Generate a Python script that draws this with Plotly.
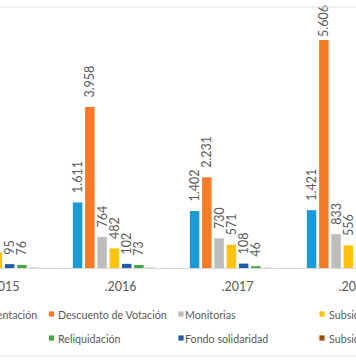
import plotly.graph_objects as go

# ---- data ----
years = [".2015", ".2016", ".2017", ".2018"]
alimentacion = [1500, 1611, 1402, 1421]
descuento_votacion = [2800, 3958, 2231, 5606]
monitorias = [650, 764, 730, 833]
subsidio_transporte = [378, 482, 571, 556]
fondo_solidaridad = [95, 102, 108, 165]
reliquidacion = [76, 73, 46, 50]
otros = [18, 16, 12, 14]
subsidio_vivienda = [0, 0, 0, 0]

PAD = "\u00a0\u00a0%{y:,.0f}"
series = [
    ("Apoyo de alimentación", alimentacion, "#1b9ad6", PAD),
    ("Descuento de Votación", descuento_votacion, "#f77b26", [PAD, PAD, PAD, "%{y:,.0f}"]),
    ("Monitorias", monitorias, "#bdbdbd", PAD),
    ("Subsidio de transporte", subsidio_transporte, "#ffc20e", PAD),
    ("Fondo solidaridad", fondo_solidaridad, "#1f5ca8", PAD),
    ("Reliquidación", reliquidacion, "#45a845", PAD),
    ("Otros", otros, "#cdd3dc", ""),
    ("Subsidio de vivienda", subsidio_vivienda, "#9e480e", ""),
]

W, H = 356, 364
TOP, BASE = 7, 268
FONT = "Lato"
TXT = "#595959"
LEG_SIZE = 10.7

fig = go.Figure()
for name, vals, col, tmpl in series:
    fig.add_trace(go.Bar(
        x=years, y=vals, name=name, marker_color=col, marker_line_width=0,
        texttemplate=tmpl,
        textposition="outside", textangle=-90, constraintext="none",
        cliponaxis=False,
        textfont=dict(family=FONT, size=12.5, color=TXT),
        showlegend=False, hoverinfo="skip",
    ))

def py(p):
    return (BASE - p) / (BASE - TOP)

def px(p):
    return p / W

shapes = [
    dict(type="line", xref="paper", yref="paper", x0=0, x1=1, y0=py(7), y1=py(7),
         line=dict(color="#e4e4e4", width=1)),
    dict(type="line", xref="paper", yref="paper", x0=0, x1=1, y0=py(356), y1=py(356),
         line=dict(color="#e4e4e4", width=1)),
]
annotations = []

legend_items = [
    # (label, color, marker center x, row y, text left x)
    ("Descuento de Votación", "#f77b26", 51.5, 314, 58),
    ("Monitorias", "#bdbdbd", 181, 314, 185),
    ("Subsidio de transporte", "#ffc20e", 322, 314, 329),
    ("Reliquidación", "#45a845", 51.5, 338, 58),
    ("Fondo solidaridad", "#1f5ca8", 181, 338, 185),
    ("Subsidio de vivienda", "#9e480e", 322, 338, 329),
]
for label, col, mx, my, tx in legend_items:
    shapes.append(dict(type="rect", xref="paper", yref="paper",
                       x0=px(mx - 2.6), x1=px(mx + 2.6), y0=py(my + 2.6), y1=py(my - 2.6),
                       fillcolor=col, line=dict(width=0)))
    annotations.append(dict(xref="paper", yref="paper", x=px(tx - 2), y=py(my),
                            xanchor="left", yanchor="middle", text=label, showarrow=False,
                            font=dict(family=FONT, size=LEG_SIZE, color=TXT)))
# first legend entry, cut off at left edge
annotations.append(dict(xref="paper", yref="paper", x=px(39), y=py(314),
                        xanchor="right", yanchor="middle", text="Apoyo de alimentación",
                        showarrow=False, font=dict(family=FONT, size=LEG_SIZE, color=TXT)))

span = W / 117.0
x0 = -3.5 / 117.0
fig.update_layout(
    width=W, height=H,
    margin=dict(l=0, r=0, t=TOP, b=H - BASE, pad=0, autoexpand=False),
    paper_bgcolor="white", plot_bgcolor="white",
    barmode="group", bargap=0.1615, bargroupgap=0.225,
    separators=",.",
    hovermode=False,
    xaxis=dict(type="category", range=[x0, x0 + span], showline=True, automargin=False,
               linecolor="#d9d9d9", linewidth=1, ticks="", showgrid=False,
               tickfont=dict(family=FONT, size=12.5, color=TXT), ticklabelstandoff=7),
    yaxis=dict(visible=False, range=[0, (BASE - TOP) / 0.04068], showgrid=False,
               automargin=False),
    shapes=shapes, annotations=annotations,
    font=dict(family=FONT, color=TXT),
)

fig.write_html(
    "out.html",
    config={"displayModeBar": False, "staticPlot": True},
    post_script="document.body.style.margin='0';document.body.style.overflow='hidden';",
)
